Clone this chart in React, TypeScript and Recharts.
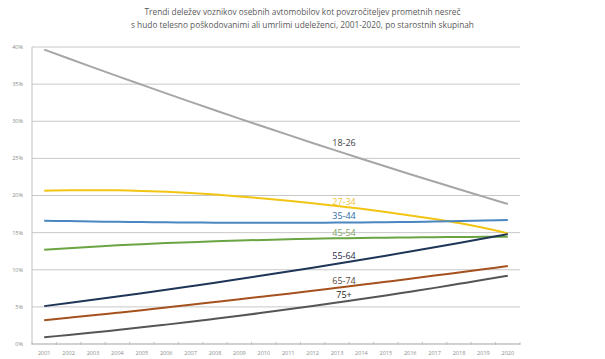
import React from "react";
import { LineChart, Line, XAxis, YAxis, CartesianGrid, LabelList } from "recharts";

const years = [
  "2001", "2002", "2003", "2004", "2005", "2006", "2007", "2008", "2009", "2010",
  "2011", "2012", "2013", "2014", "2015", "2016", "2017", "2018", "2019", "2020",
];

const age18_26 = [39.65, 38.45, 37.26, 36.08, 34.91, 33.75, 32.61, 31.48, 30.36, 29.26, 28.16, 27.08, 26.01, 24.95, 23.9, 22.87, 21.85, 20.84, 19.85, 18.86];
const age27_34 = [20.65, 20.7, 20.72, 20.7, 20.62, 20.5, 20.33, 20.12, 19.88, 19.6, 19.3, 18.96, 18.6, 18.2, 17.78, 17.32, 16.83, 16.3, 15.65, 14.9];
const age35_44 = [16.6, 16.55, 16.5, 16.46, 16.42, 16.39, 16.36, 16.34, 16.33, 16.32, 16.32, 16.33, 16.35, 16.37, 16.4, 16.44, 16.49, 16.55, 16.62, 16.7];
const age45_54 = [12.7, 12.9, 13.1, 13.3, 13.45, 13.6, 13.72, 13.83, 13.93, 14.02, 14.1, 14.17, 14.23, 14.28, 14.32, 14.36, 14.39, 14.41, 14.43, 14.45];
const age55_64 = [5.1, 5.52, 5.95, 6.39, 6.84, 7.3, 7.78, 8.26, 8.75, 9.25, 9.76, 10.28, 10.81, 11.35, 11.9, 12.46, 13.03, 13.61, 14.2, 14.8];
const age65_74 = [3.2, 3.53, 3.86, 4.21, 4.56, 4.92, 5.28, 5.65, 6.02, 6.4, 6.78, 7.17, 7.57, 7.97, 8.38, 8.79, 9.21, 9.64, 10.07, 10.5];
const age75plus = [0.9, 1.22, 1.54, 1.89, 2.24, 2.61, 2.99, 3.39, 3.8, 4.23, 4.67, 5.11, 5.58, 6.05, 6.54, 7.05, 7.56, 8.1, 8.64, 9.2];

const yTicks = [0, 5, 10, 15, 20, 25, 30, 35, 40];

const titleLines = [
  "Trendi deležev voznikov osebnih avtomobilov kot povzročiteljev prometnih nesreč",
  "s hudo telesno poškodovanimi ali umrlimi udeleženci, 2001-2020, po starostnih skupinah",
];

const data = years.map((y, i) => ({
  year: y,
  a: age18_26[i],
  b: age27_34[i],
  c: age35_44[i],
  d: age45_54[i],
  e: age55_64[i],
  f: age65_74[i],
  g: age75plus[i],
}));

const series = [
  { key: "a", name: "18-26", color: "#a6a6a6", text: "#404040", dy: -7 },
  { key: "b", name: "27-34", color: "#f2c414", text: "#f0c53a", dy: -3 },
  { key: "c", name: "35-44", color: "#4a86c0", text: "#2e6ca8", dy: -6 },
  { key: "d", name: "45-54", color: "#6aa443", text: "#86a468", dy: -5 },
  { key: "e", name: "55-64", color: "#1f3558", text: "#1f2b45", dy: -7 },
  { key: "f", name: "65-74", color: "#a4511e", text: "#5a4a40", dy: -6 },
  { key: "g", name: "75+", color: "#555555", text: "#222222", dy: -7 },
];

const FONT = "'Open Sans', sans-serif";
const HALF = 12.2;

function makeLabel(name: string, color: string, dy: number) {
  return (props: any) => {
    if (props.index !== 12) return null;
    return (
      <text x={props.x + 7} y={props.y + dy} textAnchor="middle" dominantBaseline="middle"
        fontSize={9} fontFamily={FONT} fill={color}>
        {name}
      </text>
    );
  };
}

const XTick = (props: any) => {
  const { x, y, payload, index } = props;
  return (
    <g>
      <line x1={x - HALF} x2={x - HALF} y1={y - 2} y2={y + 1} stroke="#bfbfbf" />
      {index === years.length - 1 && (
        <line x1={x + HALF} x2={x + HALF} y1={y - 2} y2={y + 1} stroke="#bfbfbf" />
      )}
      <text x={x} y={y + 11} textAnchor="middle" fontSize={5.5} fontFamily={FONT} fill="#8c8c8c">
        {payload.value}
      </text>
    </g>
  );
};

export default function App() {
  return (
    <div style={{ position: "absolute", left: 0, top: 0, width: 605, height: 359, background: "#fff" }}>
      {titleLines.map((t, i) => (
        <div key={i} style={{
          position: "absolute", left: 0, width: 605, top: 6 + i * 13, textAlign: "center",
          fontFamily: FONT, fontSize: 8.3, color: "#595959", lineHeight: "12px", whiteSpace: "nowrap",
        }}>{t}</div>
      ))}
      <div style={{ position: "absolute", left: 0, top: 0 }}>
        <LineChart width={605} height={359} data={data}
          margin={{ top: 47, right: 85, bottom: 0, left: 2 }}>
          <CartesianGrid vertical={false} stroke="#c8c8c8" />
          <XAxis dataKey="year" padding={{ left: HALF, right: HALF }} height={15}
            axisLine={{ stroke: "#bfbfbf" }} tickLine={false} tickSize={0} tickMargin={0}
            tick={<XTick />} interval={0} />
          <YAxis domain={[0, 40]} ticks={yTicks} width={30} axisLine={{ stroke: "#bfbfbf" }}
            tickLine={false} tickFormatter={(v: number) => `${v}%`}
            tick={{ fontSize: 5.5, fontFamily: FONT, fill: "#8c8c8c" }} tickMargin={3} />
          {series.map((s) => (
            <Line key={s.key} dataKey={s.key} name={s.name} type="monotone" stroke={s.color}
              strokeWidth={2} dot={false} isAnimationActive={false}>
              <LabelList dataKey={s.key} content={makeLabel(s.name, s.text, s.dy)} />
            </Line>
          ))}
        </LineChart>
      </div>
    </div>
  );
}
